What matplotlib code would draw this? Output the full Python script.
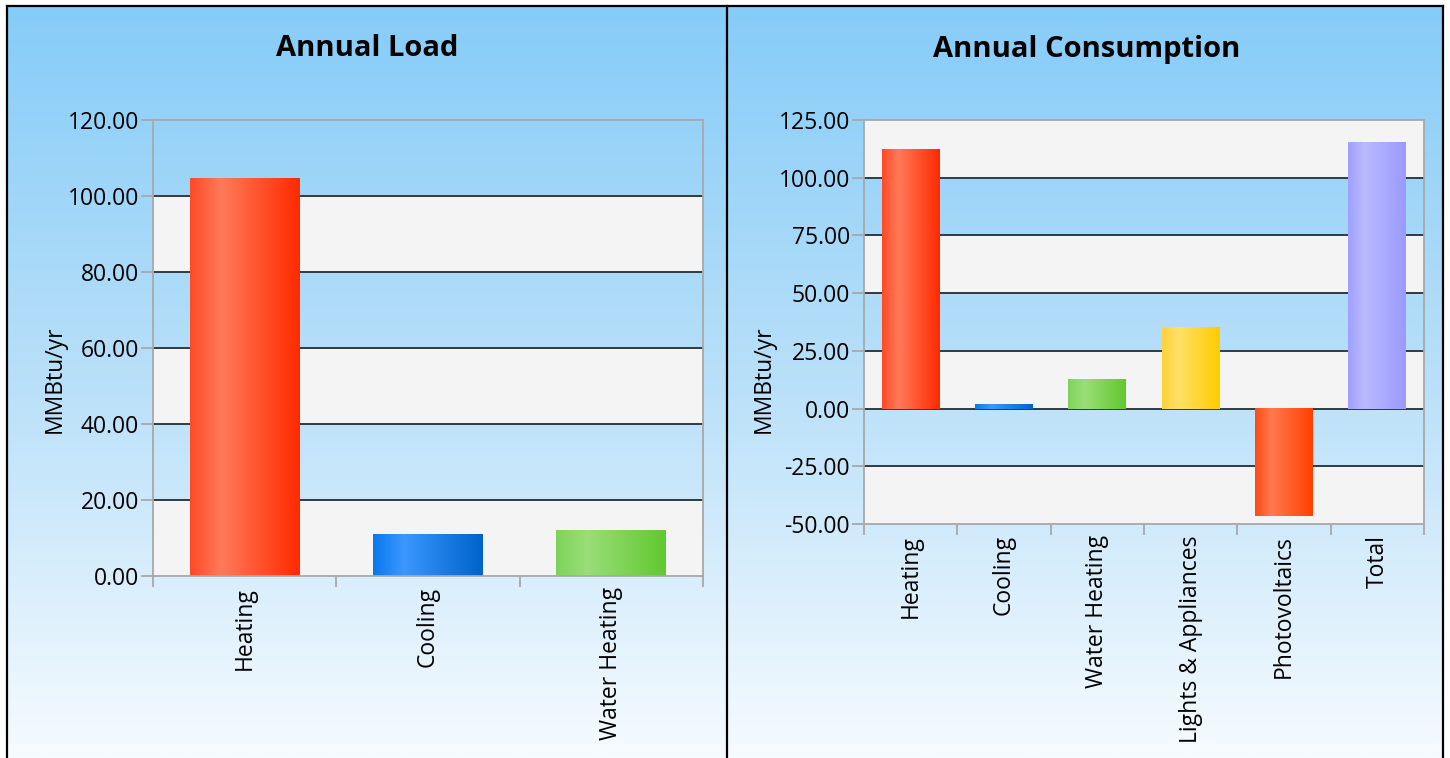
import numpy as np
import matplotlib
matplotlib.use("Agg")
import matplotlib.pyplot as plt
from matplotlib.colors import LinearSegmentedColormap

plt.rcParams['font.family'] = ['Open Sans', 'DejaVu Sans']

# data
load_cats = ["Heating", "Cooling", "Water Heating"]
load_vals = [104.7, 10.9, 12.0]
load_cols = ["red", "blue", "green"]

cons_cats = ["Heating", "Cooling", "Water Heating", "Lights & Appliances", "Photovoltaics", "Total"]
cons_vals = [112.3, 1.8, 12.6, 35.2, -46.5, 115.3]
cons_cols = ["red", "blue", "green", "yellow", "orange", "lavender"]

load_ticks = [0, 20, 40, 60, 80, 100, 120]
cons_ticks = [-50, -25, 0, 25, 50, 75, 100, 125]

# left edge / highlight / right edge of each bar gradient
palette = {
    "red":      ["#ff4a26", "#ff7a5a", "#ff2a00"],
    "blue":     ["#0a78ee", "#3a98ff", "#0062cc"],
    "green":    ["#7ed45a", "#9ade78", "#62c830"],
    "yellow":   ["#ffd23a", "#ffe066", "#ffcc00"],
    "orange":   ["#ff4a14", "#ff7a50", "#ff3f00"],
    "lavender": ["#a0a0ff", "#babaff", "#9a9aff"],
}

W, H = 1450, 758
fig = plt.figure(figsize=(W / 100, H / 100), dpi=100)

# page background gradient and panel frames
bg = fig.add_axes([0, 0, 1, 1], zorder=-10)
bg.set_xlim(0, W)
bg.set_ylim(H, 0)
bg.axis("off")
grad_cmap = LinearSegmentedColormap.from_list("sky", ["#86ccf8", "#b9e0f9", "#f6fbff"])
grad = np.linspace(0, 1, 256).reshape(-1, 1)
bg.imshow(grad, cmap=grad_cmap, extent=[7, 1443, H, 6], aspect="auto")
bg.plot([7, 1443], [6, 6], color="black", lw=1.6)
bg.plot([7, 7], [6, H], color="black", lw=1.6)
bg.plot([727, 727], [6, H], color="black", lw=1.6)
bg.plot([1443, 1443], [6, H], color="black", lw=1.6)


def draw_panel(rect, title, title_x, cats, vals, cols, ticks, width, label_x):
    ax = fig.add_axes(rect)
    ax.set_facecolor("none")
    n = len(cats)
    x = np.arange(n)
    ax.set_xlim(-0.5, n - 0.5)
    ax.set_ylim(ticks[0], ticks[-1])

    # alternating bands, bottom band grey
    for i in range(0, len(ticks) - 1, 2):
        ax.axhspan(ticks[i], ticks[i + 1], color="#f4f4f4", zorder=0, lw=0)
    for t in ticks[1:-1]:
        ax.axhline(t, color="#2f3b42", lw=1.4, zorder=1)

    bars = ax.bar(x, vals, width=width, color="none", zorder=2)
    for b, c in zip(bars, cols):
        x0, w = b.get_x(), b.get_width()
        y0, h = b.get_y(), b.get_height()
        cmap = LinearSegmentedColormap.from_list(
            "g", [(0, palette[c][0]), (0.28, palette[c][1]), (1, palette[c][2])])
        ax.imshow(np.linspace(0, 1, 128).reshape(1, -1), cmap=cmap,
                  extent=[x0, x0 + w, y0, y0 + h], aspect="auto", zorder=3)
    ax.set_aspect("auto")

    for s in ax.spines.values():
        s.set_color("#a8a8a8")
        s.set_linewidth(1.3)
        s.set_zorder(4)

    ax.set_yticks(ticks)
    ax.set_yticklabels([f"{t:.2f}" for t in ticks])
    ax.tick_params(axis="y", length=9, width=1.3, color="#a8a8a8", pad=1,
                   labelsize=16.5)
    ax.set_xticks(x)
    ax.set_xticklabels(cats, rotation=90, fontsize=16.5)
    ax.tick_params(axis="x", which="major", length=0, pad=8)
    ax.set_xticks(np.arange(n + 1) - 0.5, minor=True)
    ax.tick_params(axis="x", which="minor", length=8, width=1.3, color="#a8a8a8")

    ax.set_ylabel("MMBtu/yr", fontsize=16.5)
    ax.yaxis.set_label_coords(label_x, 0.5, transform=fig.transFigure)
    fig.text(title_x, 1 - 49 / H, title, ha="center", va="center",
             fontsize=21, fontweight="bold")
    return ax


draw_panel([153 / W, 1 - 576 / H, 550 / W, 456 / H], "Annual Load", 367 / W,
           load_cats, load_vals, load_cols, load_ticks, 0.6, 67 / W)
draw_panel([864 / W, 1 - 524 / H, 560 / W, 404 / H], "Annual Consumption", 1087 / W,
           cons_cats, cons_vals, cons_cols, cons_ticks, 0.62, 776 / W)

fig.savefig("out.png", dpi=100)
